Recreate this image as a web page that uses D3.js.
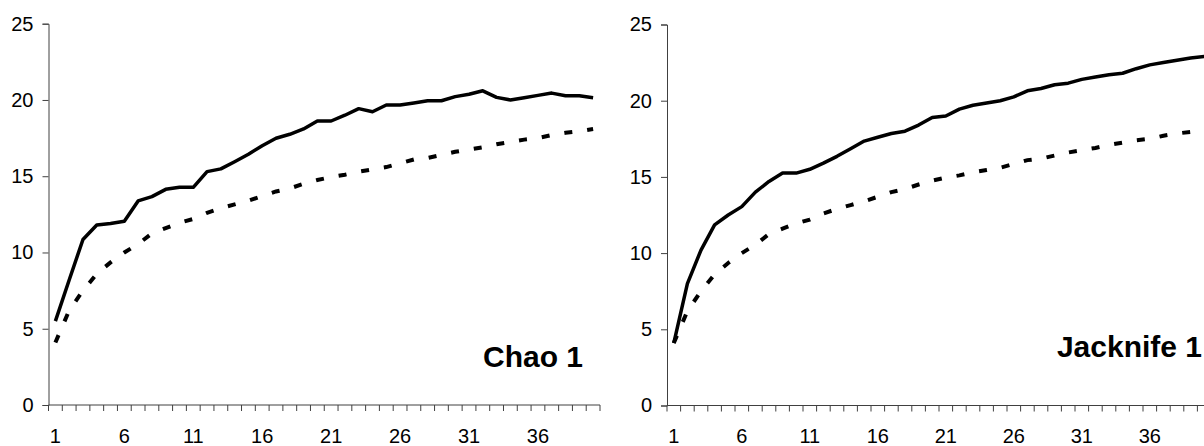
<!DOCTYPE html>
<html>
<head>
<meta charset="utf-8">
<script src="https://cdn.jsdelivr.net/npm/d3@7"></script>
<style>
  body { margin: 0; background: #fff; }
  text { font-family: "Liberation Sans", Arial, sans-serif; }
</style>
</head>
<body>
<div id="chart"></div>
<script>

// samples 1..40
var samples = d3.range(1, 41);
var tickLabels = [1, 6, 11, 16, 21, 26, 31, 36];
var yTicks = [0, 5, 10, 15, 20, 25];

// observed richness (dashed, same in both panels)
var observed = [4.1, 6.2, 7.5, 8.6, 9.35, 10.0, 10.55, 11.25, 11.6, 11.95,
  12.2, 12.6, 12.9, 13.15, 13.4, 13.7, 14.0, 14.2, 14.5, 14.75,
  14.95, 15.1, 15.3, 15.45, 15.6, 15.85, 16.1, 16.2, 16.4, 16.6,
  16.75, 16.9, 17.1, 17.25, 17.4, 17.5, 17.7, 17.85, 17.95, 18.1];

// chao 1 estimator
var chao1 = [5.5, 8.2, 10.85, 11.8, 11.9, 12.05, 13.38, 13.66, 14.14, 14.27,
  14.27, 15.3, 15.48, 15.95, 16.44, 17.0, 17.49, 17.75, 18.1, 18.62,
  18.62, 19.0, 19.43, 19.23, 19.67, 19.67, 19.8, 19.95, 19.95, 20.22,
  20.37, 20.6, 20.17, 20.0, 20.15, 20.3, 20.45, 20.28, 20.28, 20.15];

// jacknife 1 estimator
var jack1 = [4.1, 8.0, 10.2, 11.85, 12.5, 13.05, 14.0, 14.7, 15.25, 15.25,
  15.5, 15.9, 16.35, 16.85, 17.35, 17.6, 17.85, 18.0, 18.4, 18.9,
  19.0, 19.45, 19.7, 19.85, 20.0, 20.25, 20.65, 20.8, 21.05, 21.15,
  21.4, 21.55, 21.7, 21.8, 22.1, 22.35, 22.5, 22.65, 22.8, 22.9];

var W = 1204, H = 446;

var svg = d3.select("#chart")
  .append("svg")
    .attr("width", W)
    .attr("height", H);

var panels = [
  {title: "Chao 1", est: chao1, x0: 48.5, x1: 600, top: 23.7, bottom: 405,
   tx: 583, ty: 367},
  {title: "Jacknife 1", est: jack1, x0: 667, x1: 1211, top: 24.5, bottom: 405.5,
   tx: 1202, ty: 357}
];

panels.forEach(function (p) {

  var x = d3.scaleBand()
    .domain(samples)
    .range([p.x0, p.x1]);

  var y = d3.scaleLinear()
    .domain([0, 25])
    .range([p.bottom, p.top]);

  var g = svg.append("g");

  // x axis, ticks between categories
  var xAxis = g.append("g")
    .attr("transform", "translate(0," + p.bottom + ")");
  xAxis.append("line")
    .attr("x1", p.x0).attr("x2", p.x1)
    .attr("stroke", "#404040");
  xAxis.selectAll("line.tk")
    .data(d3.range(0, 41))
    .enter()
    .append("line")
      .attr("class", "tk")
      .attr("x1", function (d) { return p.x0 + d * x.step(); })
      .attr("x2", function (d) { return p.x0 + d * x.step(); })
      .attr("y1", 0).attr("y2", 6)
      .attr("stroke", "#404040");
  xAxis.selectAll("text")
    .data(tickLabels)
    .enter()
    .append("text")
      .attr("x", function (d) { return x(d) + x.bandwidth() / 2; })
      .attr("y", 37.5)
      .attr("text-anchor", "middle")
      .attr("font-size", 20)
      .text(function (d) { return d; });

  // y axis
  var yAxis = d3.axisLeft(y)
    .tickValues(yTicks)
    .tickSize(6)
    .tickPadding(9);
  var ya = g.append("g")
    .attr("transform", "translate(" + p.x0 + ",0)")
    .call(yAxis);
  ya.select(".domain").attr("stroke", "#404040");
  ya.selectAll(".tick line").attr("stroke", "#404040");
  ya.selectAll(".tick text")
    .attr("font-size", 20)
    .attr("font-family", "Liberation Sans, Arial, sans-serif")
    .attr("fill", "#000");

  var line = d3.line()
    .x(function (d, i) { return x(samples[i]) + x.bandwidth() / 2; })
    .y(function (d) { return y(d); });

  g.append("path")
    .datum(observed)
    .attr("d", line)
    .attr("fill", "none")
    .attr("stroke", "#000")
    .attr("stroke-width", 4)
    .attr("stroke-dasharray", "8,15");

  g.append("path")
    .datum(p.est)
    .attr("d", line)
    .attr("fill", "none")
    .attr("stroke", "#000")
    .attr("stroke-width", 3.5)
    .attr("stroke-linejoin", "round");

  g.append("text")
    .attr("x", p.tx)
    .attr("y", p.ty)
    .attr("text-anchor", "end")
    .attr("font-size", 30)
    .attr("font-weight", "bold")
    .text(p.title);
});

</script>
</body>
</html>
